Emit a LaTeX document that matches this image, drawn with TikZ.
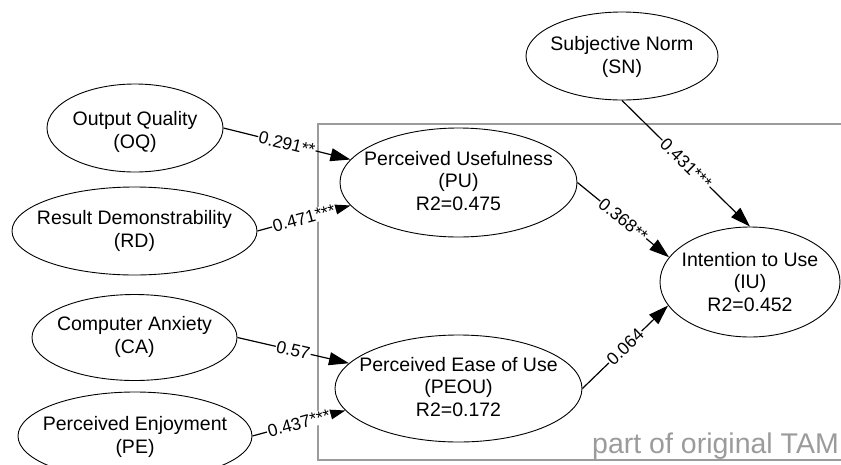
\documentclass[tikz,border=0pt]{standalone}
\usepackage{fontspec}
\setmainfont{Liberation Sans}
\usetikzlibrary{shapes.geometric,arrows.meta}
\definecolor{boxgray}{RGB}{155,155,155}
\tikzset{
  ell/.style={draw, ellipse, fill=white, inner sep=0pt, line width=0.9pt},
  etxt/.style={align=center, font=\fontsize{19.5}{22.5}\selectfont, inner sep=0pt},
  conn/.style={line width=1.2pt, -{Triangle[length=20pt,width=13pt]}},
  wt/.style={sloped, fill=white, inner sep=0.8pt, font=\fontsize{17.5}{20}\selectfont, pos=0.5},
}
\begin{document}
\begin{tikzpicture}[x=1pt,y=-1pt]
\useasboundingbox (0,0) rectangle (841,464);
\clip (0,0) rectangle (841,464);
% frame of original TAM
\draw[boxgray, line width=1.5pt] (318,124) rectangle (860,460);
\node[anchor=base east, text=boxgray, inner sep=0pt, font=\fontsize{28.5}{31}\selectfont] (tam) at (839,453) {part of original TAM};

% ellipses
\node[ell, minimum width=192pt, minimum height=88pt] (sn) at (622,56) {};
\node[etxt] (snt) at (622,57) {Subjective Norm\\(SN)};

\node[ell, minimum width=176pt, minimum height=88pt] (oq) at (135,128) {};
\node[etxt] (oqt) at (135,132) {Output Quality\\(OQ)};

\node[ell, minimum width=245pt, minimum height=88pt] (rd) at (134.5,231) {};
\node[etxt] (rdt) at (134.5,231) {Result Demonstrability\\(RD)};

\node[ell, minimum width=205pt, minimum height=86pt] (ca) at (134.5,337.5) {};
\node[etxt] (cat) at (134.5,337) {Computer Anxiety\\(CA)};

\node[ell, minimum width=234pt, minimum height=88pt] (pe) at (135,436) {};
\node[etxt] (pet) at (135,437) {Perceived Enjoyment\\(PE)};

\node[ell, minimum width=237pt, minimum height=109pt] (pu) at (458.5,182.5) {};
\node[etxt] (put) at (458.5,181) {Perceived Usefulness\\(PU)\\R2=0.475};

\node[ell, minimum width=247pt, minimum height=107pt] (peou) at (458.5,388.5) {};
\node[etxt] (peout) at (458.5,387) {Perceived Ease of Use\\(PEOU)\\R2=0.172};

\node[ell, minimum width=180pt, minimum height=110pt] (iu) at (750,282) {};
\node[etxt] (iut) at (750,282) {Intention to Use\\(IU)\\R2=0.452};

% connectors
\draw[conn] (oq.east) -- node[wt] {0.291**} (pu.168);
\draw[conn] (rd.east) -- node[wt] {0.471***} (pu.192);
\draw[conn] (ca.east) -- node[wt] {0.57} (peou.167);
\draw[conn] (pe.east) -- node[wt] {0.437***} (peou.191);
\draw[conn] (sn.south) -- node[wt] {0.431***} (iu.north);
\draw[conn] (pu.east) -- node[wt] {0.368**} (iu.163);
\draw[conn] (peou.east) -- node[wt] {0.064} (iu.196);
\end{tikzpicture}
\end{document}
